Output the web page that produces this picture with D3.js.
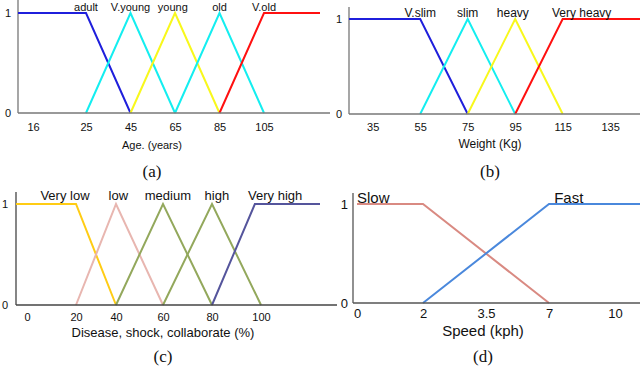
<!DOCTYPE html>
<html>
<head>
<meta charset="utf-8">
<script src="https://cdn.jsdelivr.net/npm/d3@7"></script>
<style>
  body { margin: 0; background: #fff; }
  svg { display: block; }
</style>
</head>
<body>
<div id="chart"></div>
<script>
// (a) age
const ageTicks = [16, 25, 45, 65, 85, 105];
const ageSets = ["adult", "V.young", "young", "old", "V.old"];
const ageSetX = [[10, 25, 45], [25, 45, 65], [45, 65, 85], [65, 85, 105], [85, 105, 130]];
const ageSetMu = [[1, 1, 0], [0, 1, 0], [0, 1, 0], [0, 1, 0], [0, 1, 1]];
const ageLabelX = [25, 45, 64, 85, 105];

// (b) weight
const weightTicks = [35, 55, 75, 95, 115, 135];
const weightSets = ["V.slim", "slim", "heavy", "Very heavy"];
const weightSetX = [[25, 55, 75], [55, 75, 95], [75, 95, 115], [95, 115, 148]];
const weightSetMu = [[1, 1, 0], [0, 1, 0], [0, 1, 0], [0, 1, 1]];
const weightLabelX = [55, 75, 94, 123];

// (c) disease, shock, collaborate
const pctTicks = [0, 20, 40, 60, 80, 100];
const pctSets = ["Very low", "low", "medium", "high", "Very high"];
const pctSetX = [[-5, 20, 40], [20, 40, 60], [40, 60, 80], [60, 80, 100], [80, 97.5, 125]];
const pctSetMu = [[1, 1, 0], [0, 1, 0], [0, 1, 0], [0, 1, 0], [0, 1, 1]];
const pctLabelX = [15.5, 41, 62, 82, 106];

// (d) speed
const speedTicks = [0, 2, 3.5, 7, 10];
const speedSets = ["Slow", "Fast"];
const speedSetX = [[0, 2, 7], [2, 7, 11]];
const speedSetMu = [[1, 1, 0], [0, 1, 1]];
const speedLabelX = [0, 7.9];

const width = 640, height = 371;
const sans = "'Liberation Sans', Arial, sans-serif";

const svg = d3.select("#chart")
    .append("svg")
    .attr("width", width)
    .attr("height", height);

function drawPanel(p) {
    // piecewise x scale, the tick spacing in the figure is not uniform
    const x = d3.scaleLinear().domain(p.xDomain).range(p.xRange);
    const y = d3.scaleLinear().domain([0, 1]).range([p.base, p.top]);
    const g = svg.append("g");

    // y axis
    g.append("line")
        .attr("x1", p.xRange[0]).attr("x2", p.xRange[0])
        .attr("y1", p.axisTop).attr("y2", y(0))
        .attr("stroke", p.axisColor).attr("stroke-width", 1.3);
    const ya = g.append("g")
        .attr("transform", "translate(" + p.xRange[0] + ",0)")
        .call(d3.axisLeft(y).tickValues([0, 1]).tickFormat(d3.format("d")).tickSize(0).tickPadding(p.yPad));
    ya.select(".domain").remove();
    ya.selectAll("text").attr("font-family", sans).attr("font-size", p.tickSize + "px").attr("fill", "#111");

    // membership functions
    const line = d3.line().x(d => x(d[0])).y(d => y(d[1]));
    p.setX.forEach((xs, i) => {
        g.append("path")
            .datum(xs.map((v, j) => [v, p.setMu[i][j]]))
            .attr("d", line)
            .attr("fill", "none")
            .attr("stroke", p.colors[i])
            .attr("stroke-width", 2);
    });

    // x axis
    g.append("line")
        .attr("x1", p.xRange[0]).attr("x2", p.baseEnd)
        .attr("y1", y(0)).attr("y2", y(0))
        .attr("stroke", p.axisColor).attr("stroke-width", 1.3);
    const xa = g.append("g")
        .attr("transform", "translate(0," + y(0) + ")")
        .call(d3.axisBottom(x).tickValues(p.ticks).tickFormat(d => d).tickSize(0).tickPadding(p.xPad));
    xa.select(".domain").remove();
    xa.selectAll("text").attr("font-family", sans).attr("font-size", p.tickSize + "px").attr("fill", "#111");

    // set names
    g.selectAll("text.setname")
        .data(p.sets)
        .enter()
        .append("text")
        .attr("class", "setname")
        .attr("x", (d, i) => x(p.labelX[i]))
        .attr("y", y(1) - p.labelLift)
        .attr("text-anchor", (d, i) => p.anchors ? p.anchors[i] : "middle")
        .attr("font-family", sans)
        .attr("font-size", p.labelSize + "px")
        .attr("fill", "#111")
        .text(d => d);

    g.append("text")
        .attr("x", p.titleX).attr("y", p.titleY)
        .attr("text-anchor", "middle")
        .attr("font-family", sans)
        .attr("font-size", p.titleSize + "px")
        .attr("fill", "#111")
        .text(p.title);

    g.append("text")
        .attr("x", p.titleX).attr("y", p.captionY)
        .attr("text-anchor", "middle")
        .attr("font-family", "'Liberation Serif', 'DejaVu Serif', serif")
        .attr("font-size", "17px")
        .attr("fill", "#111")
        .text(p.caption);
}

drawPanel({
    ticks: ageTicks, sets: ageSets, setX: ageSetX, setMu: ageSetMu, labelX: ageLabelX,
    colors: ["#1f1fdc", "#14eef0", "#f8f81c", "#14eef0", "#ff1010"],
    xDomain: [10, 16, 25, 105, 130], xRange: [18, 33, 86, 264, 320],
    base: 113, top: 13, axisTop: 0, baseEnd: 330, axisColor: "#777",
    tickSize: 11, labelSize: 11, labelLift: 2, titleSize: 11, xPad: 10, yPad: 7,
    title: "Age. (years)", titleX: 152, titleY: 149, captionY: 177, caption: "(a)"
});

drawPanel({
    ticks: weightTicks, sets: weightSets, setX: weightSetX, setMu: weightSetMu, labelX: weightLabelX,
    colors: ["#1f1fdc", "#14eef0", "#f8f81c", "#ff1010"],
    xDomain: [25, 148], xRange: [349, 641],
    base: 114, top: 19, axisTop: 7, baseEnd: 640, axisColor: "#777",
    tickSize: 11, labelSize: 12, labelLift: 2.5, titleSize: 12, xPad: 9, yPad: 7,
    title: "Weight (Kg)", titleX: 490, titleY: 148, captionY: 177, caption: "(b)"
});

drawPanel({
    ticks: pctTicks, sets: pctSets, setX: pctSetX, setMu: pctSetMu, labelX: pctLabelX,
    colors: ["#ffcc14", "#e8b6b0", "#93a85c", "#93a85c", "#55559c"],
    xDomain: [-5, 0, 20, 40, 60, 80, 100, 125], xRange: [16, 27, 76, 116, 163, 212, 261, 320],
    base: 305, top: 204, axisTop: 192, baseEnd: 337, axisColor: "#444",
    tickSize: 11, labelSize: 13, labelLift: 4, titleSize: 13, xPad: 8, yPad: 8,
    title: "Disease, shock, collaborate (%)", titleX: 163, titleY: 337, captionY: 362, caption: "(c)"
});

drawPanel({
    ticks: speedTicks, sets: speedSets, setX: speedSetX, setMu: speedSetMu, labelX: speedLabelX,
    colors: ["#d98a82", "#4a88dc"], anchors: ["start", "middle"],
    xDomain: [-0.15, 0, 2, 3.5, 7, 10, 11], xRange: [353, 357, 423, 486, 549, 615, 640],
    base: 303, top: 204, axisTop: 193, baseEnd: 640, axisColor: "#555",
    tickSize: 13, labelSize: 15, labelLift: 1, titleSize: 15, xPad: 6, yPad: 5,
    title: "Speed (kph)", titleX: 483, titleY: 336, captionY: 362, caption: "(d)"
});
</script>
</body>
</html>
